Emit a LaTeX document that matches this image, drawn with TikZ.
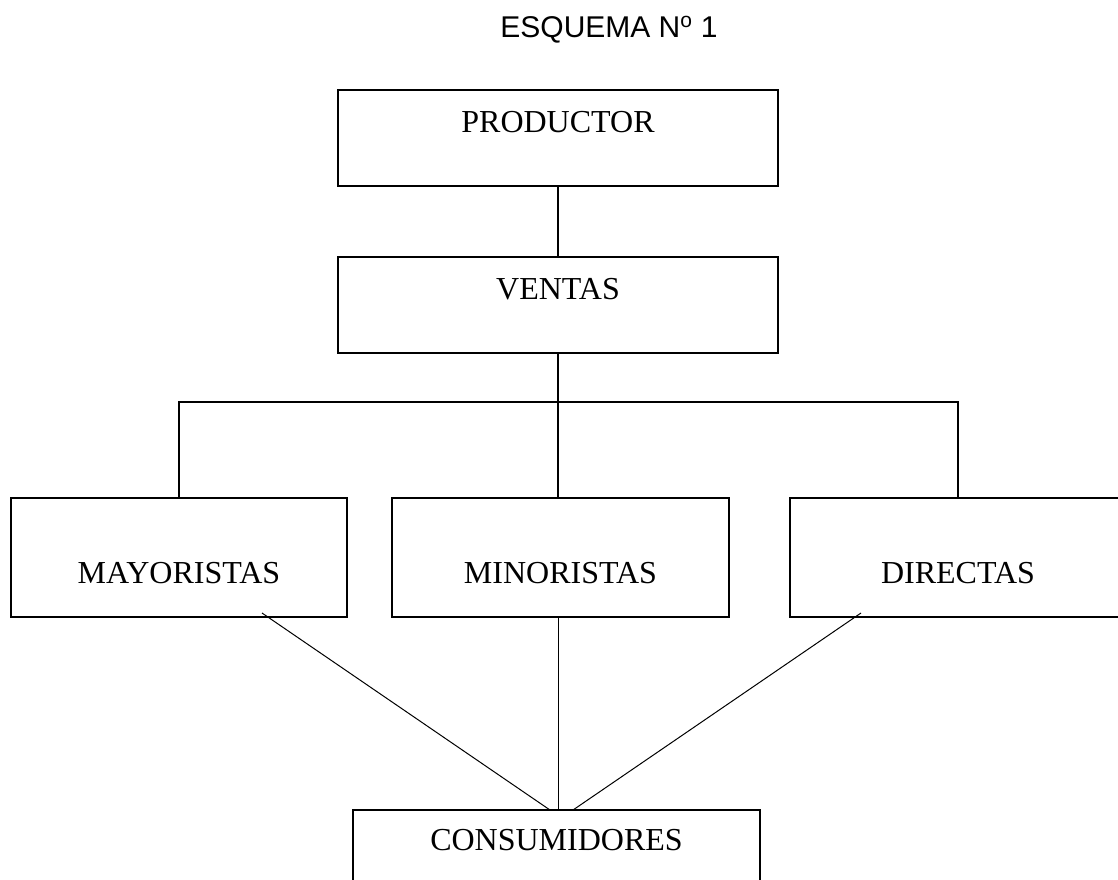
\documentclass[tikz,border=0pt]{standalone}
\usepackage{fontspec}
\setmainfont{Liberation Serif}
\newfontfamily\titlefont{Liberation Sans}
\usepackage{tikz}

\begin{document}
\begin{tikzpicture}[x=1pt,y=-1pt,
        caja/.style={draw, line width=1.8pt, inner xsep=0pt, inner ysep=20pt, text height=22pt, text depth=34pt, font=\fontsize{32}{38}\selectfont},
        fila/.style={caja, minimum width=336pt, text height=65pt, text depth=14pt},
        linea/.style={line width=1.3pt},
        diag/.style={line width=1pt}]
                \useasboundingbox (0,0) rectangle (1118,879);
                \clip (0,0) rectangle (1118,879);
                \node [anchor=base, font=\titlefont\fontsize{30}{36}\selectfont] (titulo) at (609,37) {ESQUEMA N\textsuperscript{o} 1};
                \node [caja, minimum width=440pt] (productor) at (558,138) {PRODUCTOR};
                \node [caja, minimum width=440pt] (ventas) at (558,305) {VENTAS};
                \node [fila] (mayoristas) at (179,557.5) {MAYORISTAS};
                \node [fila, minimum width=337pt] (minoristas) at (560.5,557.5) {MINORISTAS};
                \node [fila] (directas) at (958,557.5) {DIRECTAS};
                \node [caja, minimum width=407pt, text height=20pt, text depth=36pt] (consumidores) at (556.5,858) {CONSUMIDORES};
                \coordinate (bus) at (558,402);
                \coordinate (pieMay) at (262,613);
                \coordinate (pieDir) at (861,613);
                \coordinate (llegaIzq) at (550,810);
                \coordinate (llegaDer) at (573,810);
                \draw [linea] (productor.south) -- (ventas.north);
                \draw [linea] (ventas.south) -- (bus);
                \draw [linea] (mayoristas.north) |- (bus) -| (directas.north);
                \draw [linea] (bus) -- (bus |- minoristas.north);
                \draw [diag] (pieMay) -- (llegaIzq);
                \draw [diag] (bus |- minoristas.south) -- (bus |- consumidores.north);
                \draw [diag] (pieDir) -- (llegaDer);
            \end{tikzpicture}
\end{document}
